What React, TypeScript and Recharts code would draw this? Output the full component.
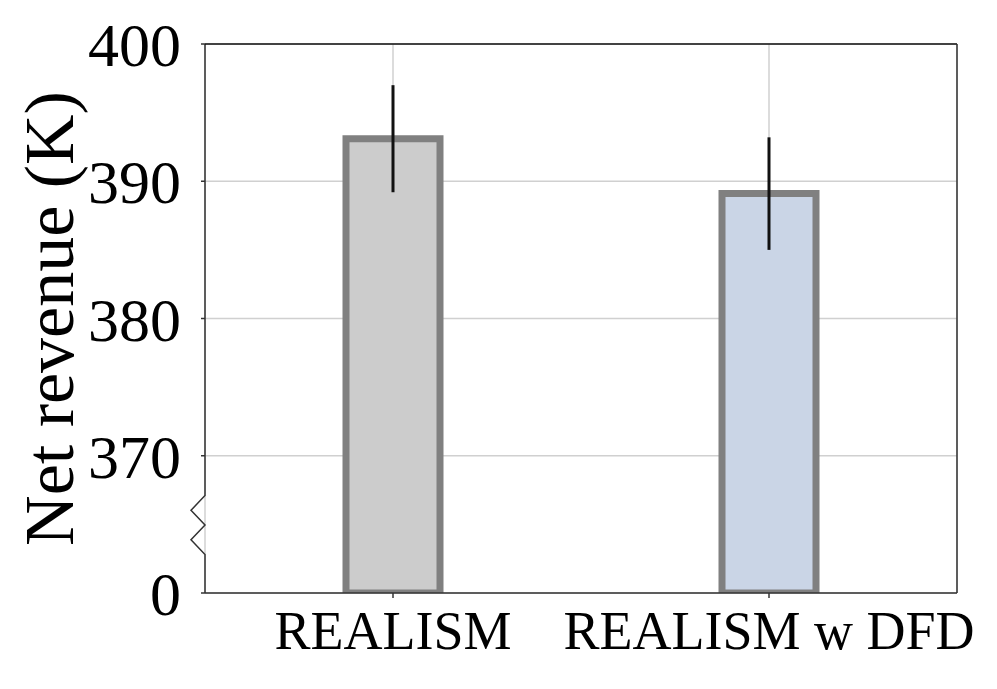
import React from "react";
import { BarChart, Bar, XAxis, YAxis, CartesianGrid, ErrorBar } from "recharts";

const categories = ["REALISM", "REALISM w DFD"];
const means = [393.1, 389.1];
const errors = [3.9, 4.1];
const yTicks = [360, 370, 380, 390, 400];
const yTickLabels = ["0", "370", "380", "390", "400"];
const fills = ["#cccccc", "#cad5e6"];
const yLabel = "Net revenue (K)";

const data = categories.map((c, i) => ({ name: c, value: means[i], err: errors[i], fill: fills[i] }));

const W = 997;
const H = 689;
const XH = 96;
const M = { top: 44, right: 40, bottom: 0, left: 0 };
const YW = 205;
const plotLeft = M.left + YW;
const plotRight = W - M.right;
const plotTop = M.top;
const plotBottom = H - M.bottom - XH;
const dMin = yTicks[0];
const dMax = yTicks[yTicks.length - 1];
const yPos = (v: number) => plotBottom - ((v - dMin) / (dMax - dMin)) * (plotBottom - plotTop);

const FONT = "Liberation Serif, Times New Roman, serif";
const AX = "#333333";

function Frame() {
  const a = yPos(367.1);
  const b = yPos(362.8);
  const step = (b - a) / 4;
  const zx = plotLeft - 14;
  const d = `M${plotLeft},${plotTop} L${plotLeft},${a} L${zx},${a + step} L${plotLeft},${a + 2 * step} L${zx},${a + 3 * step} L${plotLeft},${b} L${plotLeft},${plotBottom}`;
  return (
    <svg width={W} height={H} style={{ position: "absolute", left: 0, top: 0, pointerEvents: "none" }}>
      <path d={d} fill="none" stroke={AX} strokeWidth={1.5} />
      <line x1={plotLeft} y1={plotTop} x2={plotRight} y2={plotTop} stroke="#111" strokeWidth={1.5} />
      <line x1={plotRight} y1={plotTop} x2={plotRight} y2={plotBottom} stroke={AX} strokeWidth={1.5} />
      <line x1={plotLeft} y1={plotBottom} x2={plotRight} y2={plotBottom} stroke={AX} strokeWidth={1.5} />
    </svg>
  );
}

const YLabel = (props: any) => {
  const vb = props.viewBox || {};
  const cx = 49;
  const cy = (vb.y ?? plotTop) + (vb.height ?? plotBottom - plotTop) / 2;
  return (
    <text x={cx} y={cy} transform={`rotate(-90, ${cx}, ${cy})`} textAnchor="middle" dominantBaseline="central" fontSize={70} fontFamily={FONT} fill="#000">
      {yLabel}
    </text>
  );
};

export default function App() {
  return (
    <div style={{ position: "absolute", left: 0, top: 0, width: W, height: H, background: "#fff" }}>
      <BarChart width={W} height={H} data={data} margin={M}>
        <XAxis
          dataKey="name"
          height={XH}
          axisLine={false}
          tickLine={{ stroke: AX, strokeWidth: 1.5 }}
          tickSize={5}
          tickMargin={13}
          tick={{ fontSize: 54, fontFamily: FONT, fill: "#000" }}
          interval={0}
        />
        <YAxis
          type="number"
          domain={[dMin, dMax]}
          ticks={yTicks}
          allowDataOverflow
          width={YW}
          axisLine={false}
          tickLine={{ stroke: AX, strokeWidth: 1.5 }}
          tickSize={4}
          tickMargin={20}
          tickFormatter={(v: number) => yTickLabels[yTicks.indexOf(v)] ?? String(v)}
          tick={{ fontSize: 62, fontFamily: FONT, fill: "#000" }}
          label={<YLabel />}
        />
        <Bar dataKey="value" barSize={94} stroke="#808080" strokeWidth={7} isAnimationActive={false}>
          <ErrorBar dataKey="err" width={0} strokeWidth={3} stroke="#111" isAnimationActive={false} />
        </Bar>
        <CartesianGrid stroke="#b0b0b0" strokeOpacity={0.6} strokeWidth={1.5} />
      </BarChart>
      <Frame />
    </div>
  );
}
